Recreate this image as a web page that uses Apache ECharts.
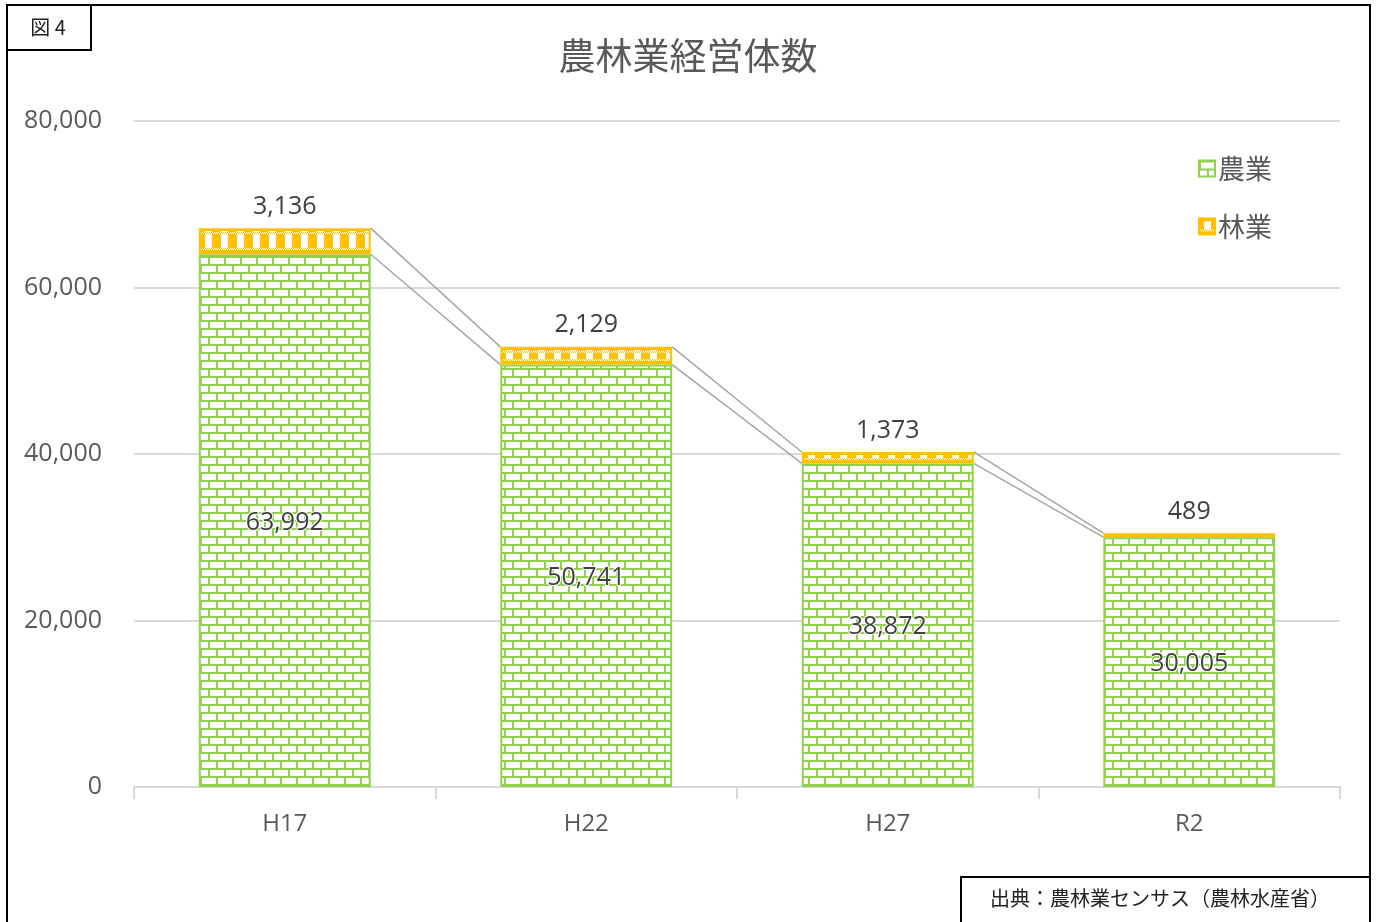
<!DOCTYPE html>
<html><head><meta charset="utf-8">
<script src="https://cdn.jsdelivr.net/npm/echarts@6/dist/echarts.min.js"></script>
<style>html,body{margin:0;padding:0;background:#fff}#c{width:1376px;height:922px}</style>
</head><body><div id="c"></div>
<script>
const categories = ['H17', 'H22', 'H27', 'R2'];
const agriValues = [63992, 50741, 38872, 30005];
const forestValues = [3136, 2129, 1373, 489];
const yTicks = [0, 20000, 40000, 60000, 80000];

const GREEN = '#92D050', YELLOW = '#FFC000';
const JP = '"Noto Sans CJK JP", "Noto Sans", sans-serif';
const NUM = '"Open Sans", "Noto Sans", sans-serif';

function brickPattern() {
  const c = document.createElement('canvas'); c.width = 16; c.height = 16;
  const g = c.getContext('2d');
  g.fillStyle = '#fff'; g.fillRect(0, 0, 16, 16);
  g.fillStyle = GREEN;
  g.fillRect(0, 0, 16, 2); g.fillRect(0, 8, 16, 2);
  g.fillRect(0, 0, 2, 8); g.fillRect(8, 8, 2, 8);
  return c;
}
function forestCanvas(h) {
  h = Math.max(2, Math.round(h));
  const c = document.createElement('canvas'); c.width = 16; c.height = h;
  const g = c.getContext('2d');
  g.fillStyle = YELLOW; g.fillRect(0, 0, 16, h);
  g.fillStyle = '#fff';
  if (h < 8) {
    g.fillRect(5, Math.floor(h / 2) - 1, 7, 1);
    return c;
  }
  g.fillRect(5, 3, 7, h - 7);
  const checkRows = h >= 18 ? [4, 5, h - 6, h - 5] : [h - 5, h - 4];
  for (const y of checkRows) {
    for (let x = 0; x < 16; x++) {
      g.fillStyle = ((x + y) % 2 === 0) ? '#fff' : YELLOW;
      g.fillRect(x, y, 1, 1);
    }
  }
  return c;
}
const brick = { image: brickPattern(), repeat: 'repeat' };

const totals = agriValues.map((v, i) => v + forestValues[i]);
const agriLinks = [], totalLinks = [];
for (let i = 0; i < categories.length - 1; i++) {
  agriLinks.push([i, agriValues[i], agriValues[i + 1]]);
  totalLinks.push([i, totals[i], totals[i + 1]]);
}
const BAR_RATIO = 0.57;
function linkRender(params, api) {
  const i = api.value(0);
  const p1 = api.coord([i, api.value(1)]);
  const p2 = api.coord([i + 1, api.value(2)]);
  const hw = api.size([1, 0])[0] * BAR_RATIO / 2;
  return { type: 'line', shape: { x1: p1[0] + hw, y1: p1[1], x2: p2[0] - hw, y2: p2[1] },
    style: { stroke: '#A6A6A6', lineWidth: 1.5 }, z2: 1 };
}

const chart = echarts.init(document.getElementById('c'), null, { renderer: 'canvas' });
const option = {
  animation: false,
  backgroundColor: '#fff',
  title: { text: '農林業経営体数', left: 683, top: 32, textAlign: 'center',
    textStyle: { fontFamily: JP, fontSize: 37, fontWeight: 'normal', color: '#595959' } },
  grid: { left: 134, right: 36, top: 121, bottom: 135 },
  legend: { orient: 'vertical', left: 1193, top: 150, itemWidth: 16, itemHeight: 16, itemGap: 31,
    icon: 'rect', data: ['農業', '林業'],
    textStyle: { fontFamily: JP, fontSize: 27, color: '#595959', padding: [0, 0, 0, -2] } },
  xAxis: { type: 'category', data: categories,
    axisLine: { lineStyle: { color: '#D9D9D9', width: 2 } },
    axisTick: { show: true, length: 12, lineStyle: { color: '#D9D9D9', width: 2 } },
    axisLabel: { fontFamily: NUM, fontSize: 24, color: '#595959', margin: 25 } },
  yAxis: { type: 'value', min: 0, max: 80000, interval: 20000,
    axisLine: { show: false }, axisTick: { show: false },
    splitLine: { lineStyle: { color: '#D9D9D9', width: 2 } },
    axisLabel: { fontFamily: NUM, fontSize: 25, color: '#595959', margin: 32,
      formatter: v => yTicks.includes(v) ? v.toLocaleString('en-US') : '' } },
  series: [
    { name: '農業', type: 'bar', stack: 'a', barWidth: (BAR_RATIO * 100) + '%', data: agriValues,
      itemStyle: { color: brick, borderColor: GREEN, borderWidth: 2 },
      label: { show: true, position: 'inside', offset: [0, 2], fontFamily: NUM, fontSize: 25, color: '#404040',
        textBorderColor: '#fff', textBorderWidth: 2,
        formatter: p => p.value.toLocaleString('en-US') } },
    { name: '林業', type: 'bar', stack: 'a', data: forestValues,
      itemStyle: { color: { image: forestCanvas(16), repeat: 'repeat' }, borderColor: YELLOW, borderWidth: 2 },
      label: { show: true, position: 'top', distance: 9, fontFamily: NUM, fontSize: 25, color: '#404040',
        formatter: p => p.value.toLocaleString('en-US') } },
    { type: 'custom', renderItem: linkRender, data: agriLinks, silent: true, z: 1 },
    { type: 'custom', renderItem: linkRender, data: totalLinks, silent: true, z: 1 }
  ],
  graphic: [
    { type: 'rect', shape: { x: 7, y: 5, width: 1363, height: 930 }, style: { fill: 'none', stroke: '#000', lineWidth: 2 }, z: 100 },
    { type: 'rect', shape: { x: 7, y: 5, width: 84, height: 45 }, style: { fill: '#fff', stroke: '#000', lineWidth: 2 }, z: 100 },
    { type: 'text', x: 48, y: 27, style: { text: '図 4', fontFamily: JP, fontSize: 20, fill: '#222', align: 'center', verticalAlign: 'middle' }, z: 101 },
    { type: 'rect', shape: { x: 961, y: 877, width: 409, height: 60 }, style: { fill: '#fff', stroke: '#000', lineWidth: 2 }, z: 100 },
    { type: 'text', x: 1160, y: 898, style: { text: '出典：農林業センサス（農林水産省）', fontFamily: JP, fontSize: 20, fill: '#222', align: 'center', verticalAlign: 'middle' }, z: 101 }
  ]
};
chart.setOption(option);

// Align the forest pattern to each bar, using pixel positions from the chart's own scales
const forestData = forestValues.map((v, i) => {
  const top = chart.convertToPixel({ seriesIndex: 1 }, [i, totals[i]]);
  const bottom = chart.convertToPixel({ seriesIndex: 1 }, [i, agriValues[i]]);
  const next = chart.convertToPixel({ xAxisIndex: 0 }, categories[Math.min(i + 1, categories.length - 1)]);
  const cur = chart.convertToPixel({ xAxisIndex: 0 }, categories[i]);
  const step = i < categories.length - 1 ? next - cur : cur - chart.convertToPixel({ xAxisIndex: 0 }, categories[i - 1]);
  const left = cur - step * BAR_RATIO / 2;
  const h = bottom[1] - top[1];
  return { value: v, itemStyle: { color: { image: forestCanvas(h), repeat: 'repeat', x: Math.round(left) + 1, y: Math.round(top[1]) } } };
});
chart.setOption({ series: [{}, { data: forestData }] });
</script></body></html>
